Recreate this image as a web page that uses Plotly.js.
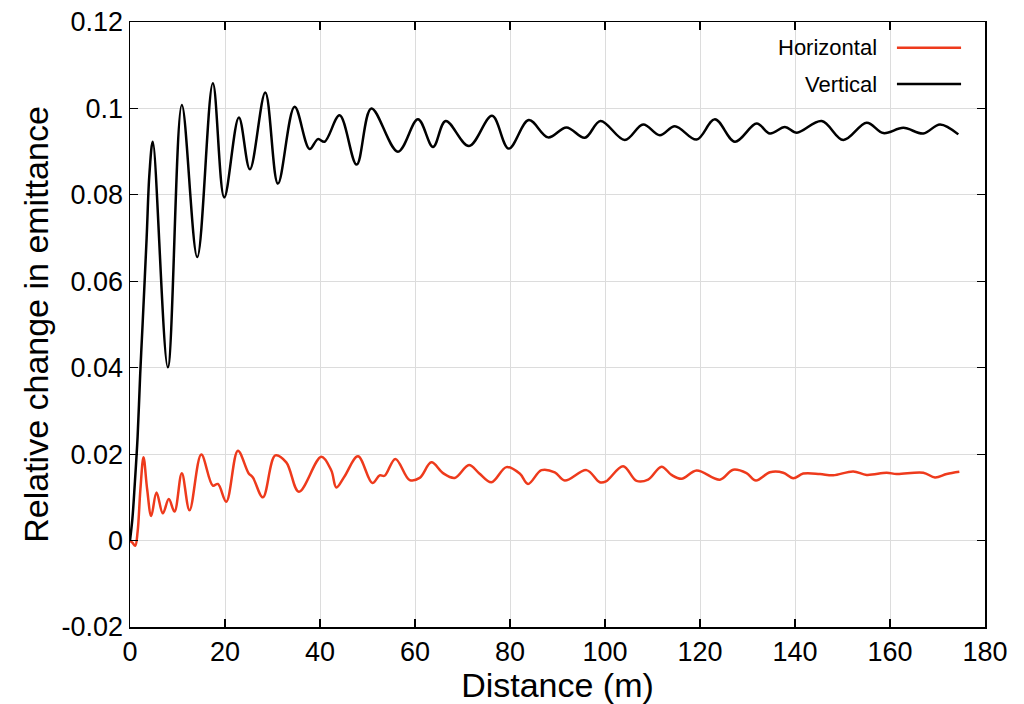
<!DOCTYPE html>
<html>
<head>
<meta charset="utf-8">
<script src="https://cdn.plot.ly/plotly-3.0.1.min.js"></script>
<style>html,body{margin:0;padding:0;background:#fff;}#chart{width:1024px;height:704px;}</style>
</head>
<body>
<div id="chart"></div>
<script>
// Vertical emittance change (black)
const vertX = [0,0.5,1.0,1.6,2.15,2.65,3.5,4.1,4.8,7.96,10.91,14.16,17.44,19.84,22.92,25.24,28.48,31.14,34.65,37.81,39.56,40.97,44.13,47.71,50.81,56.41,60.63,63.79,66.46,71.37,76.22,79.73,83.95,88.01,91.89,95.75,99.05,104.17,108.03,111.54,114.71,119.28,123.13,127.35,131.92,134.72,137.88,140.4,145.61,150.16,155.09,158.59,162.8,167.01,170.53,174.38];
const vertY = [0,0.005,0.013,0.024,0.0386,0.05,0.07,0.085,0.0923,0.0401,0.1008,0.0656,0.1058,0.0794,0.0979,0.0859,0.1037,0.0826,0.1004,0.0906,0.0929,0.0923,0.0984,0.087,0.100,0.090,0.0975,0.0911,0.0971,0.0913,0.0983,0.0907,0.0973,0.0933,0.0956,0.0932,0.0971,0.0927,0.0963,0.0938,0.0959,0.0928,0.0975,0.0923,0.0965,0.0942,0.0957,0.0944,0.0971,0.0927,0.0967,0.0943,0.0955,0.0942,0.0963,0.0940];

// Horizontal emittance change (red)
const horX = [0,0.5,1.1,1.6,2.2,2.84,3.6,4.47,5.58,6.91,8.17,9.37,10.91,12.53,15.0,17.44,18.5,20.27,22.71,24.96,25.87,27.98,30.59,32.9,35.56,40.28,42.38,43.44,45.19,47.99,51.02,52.56,53.6,55.87,58.88,60.99,63.45,65.89,68.36,71.37,73.48,76.09,79.25,82.05,83.8,86.62,89.43,91.53,96.1,98.9,100.2,103.81,106.64,109.08,111.9,114.0,116.12,119.28,124.18,126.99,129.8,131.77,134.72,137.52,139.62,141.73,145.25,148.05,152.26,155.09,159.3,161.41,167.01,169.48,171.94,174.6];
const horY = [0,-0.0005,-0.0012,0.002,0.012,0.0193,0.012,0.0057,0.0111,0.0063,0.0096,0.0067,0.0156,0.0070,0.0199,0.0127,0.0131,0.0090,0.0208,0.0156,0.0146,0.0100,0.0197,0.0181,0.0113,0.0194,0.0162,0.0123,0.0149,0.0195,0.0133,0.0151,0.0150,0.0189,0.0140,0.0145,0.0181,0.0156,0.0145,0.0175,0.0156,0.0135,0.0170,0.0155,0.0131,0.0163,0.0158,0.0139,0.0163,0.0135,0.0137,0.0172,0.0138,0.0141,0.0171,0.0152,0.0143,0.0162,0.0141,0.0164,0.0156,0.0139,0.0158,0.0157,0.0144,0.0155,0.0154,0.0151,0.0160,0.0152,0.0157,0.0154,0.0157,0.0146,0.0154,0.0159];

const xTicks = [0,20,40,60,80,100,120,140,160,180];
const yTickVals = [-0.02,0,0.02,0.04,0.06,0.08,0.1,0.12];
const yTickText = ['-0.02','0','0.02','0.04','0.06','0.08','0.1','0.12'];
const seriesNames = ['Horizontal','Vertical'];
const seriesColors = ['#ee3a1c','#000000'];

const FONT = 'Liberation Sans, Arial, Helvetica, sans-serif';

const traces = [
  {x: horX, y: horY, type:'scatter', mode:'lines', name: seriesNames[0],
   line:{color: seriesColors[0], width:2.5, shape:'spline', smoothing:1}},
  {x: vertX, y: vertY, type:'scatter', mode:'lines', name: seriesNames[1],
   line:{color: seriesColors[1], width:2.5, shape:'spline', smoothing:1}}
];

const legendY = [0.9575, 0.8975];
const annotations = seriesNames.map((n,i)=>({
  xref:'paper', yref:'paper', x:0.8755, y:legendY[i], xanchor:'right', yanchor:'middle',
  text:n, showarrow:false, font:{family:FONT, size:22, color:'#000'}
}));
const shapes = seriesNames.map((n,i)=>({
  type:'line', xref:'paper', yref:'paper', x0:0.897, x1:0.972, y0:legendY[i], y1:legendY[i],
  line:{color:seriesColors[i], width:2.5}
}));

const layout = {
  width:1024, height:704,
  margin:{l:130, r:39, t:22, b:77},
  paper_bgcolor:'#fff', plot_bgcolor:'#fff',
  showlegend:false,
  font:{family:FONT, color:'#000'},
  xaxis:{
    range:[0,180], tickvals:xTicks, ticktext:xTicks.map(String),
    showgrid:true, gridcolor:'#dcdcdc', gridwidth:1,
    showline:true, linecolor:'#000', linewidth:1.5, mirror:'allticks',
    ticks:'inside', ticklen:8, tickcolor:'#000', tickwidth:1.2,
    zeroline:false, tickfont:{family:FONT, size:27, color:'#000'},
    title:{text:'Distance (m)', font:{family:FONT, size:34, color:'#000'}, standoff:3}
  },
  yaxis:{
    range:[-0.02,0.12], tickvals:yTickVals, ticktext:yTickText,
    showgrid:true, gridcolor:'#dcdcdc', gridwidth:1,
    showline:true, linecolor:'#000', linewidth:1.5, mirror:'allticks',
    ticks:'inside', ticklen:8, tickcolor:'#000', tickwidth:1.2,
    zeroline:false, tickfont:{family:FONT, size:27, color:'#000'},
    title:{text:'Relative change in emittance', font:{family:FONT, size:34, color:'#000'}, standoff:2}
  },
  annotations: annotations,
  shapes: shapes
};

Plotly.newPlot('chart', traces, layout, {displayModeBar:false, staticPlot:true});
</script>
</body>
</html>
